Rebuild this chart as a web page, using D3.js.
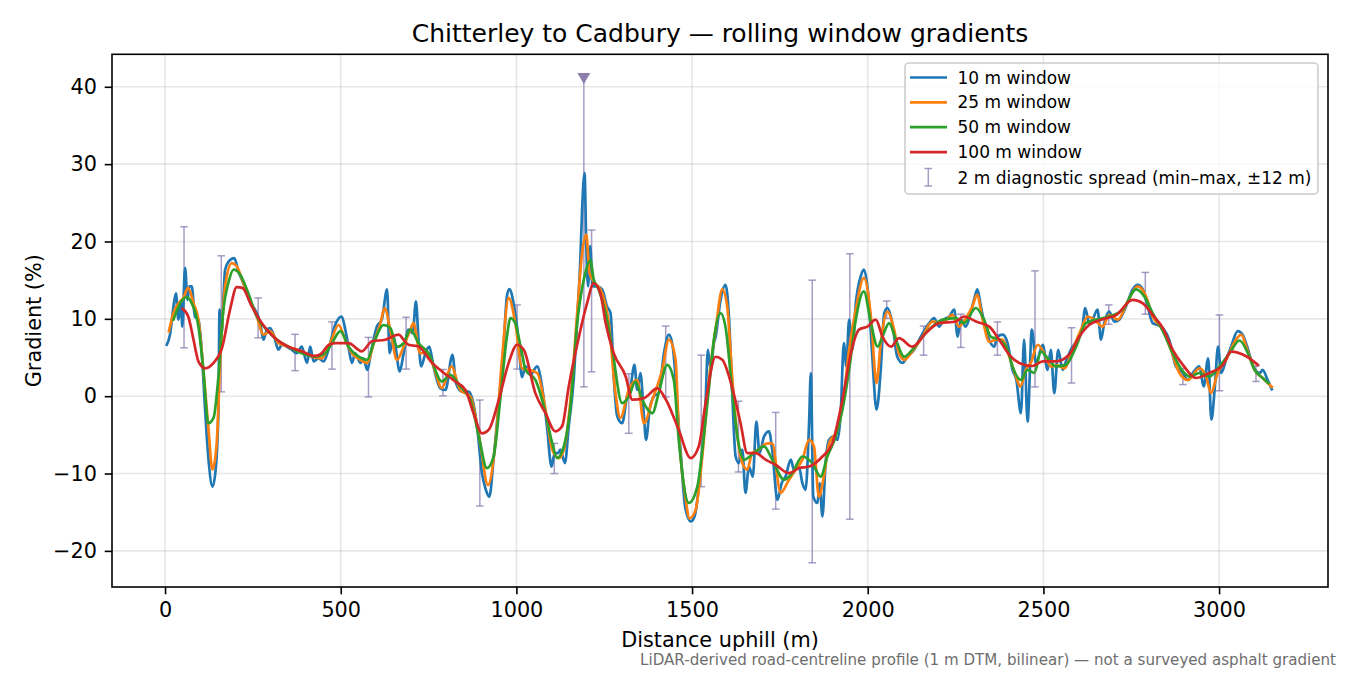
<!DOCTYPE html>
<html>
<head>
<meta charset="utf-8">
<script src="https://cdn.jsdelivr.net/npm/d3@7"></script>
<style>
  html, body { margin: 0; padding: 0; background: #fff; }
  svg { display: block; }
  text { font-family: "DejaVu Sans", sans-serif; }
</style>
</head>
<body>
<svg id="chart" width="1350" height="675"></svg>
<script>
// ---------- data (distance m, gradient %) ----------
const win10 = [[5,6.65],[14,7.95],[24,11.6],[31,13.3],[38,9.9],[46,12.0],[49,9.0],[57,16.6],[64,12.45],[69,14.2],[76,14.2],[85,10.3],[95,9.9],[104,6.0],[114,-1.75],[123,-7.8],[135,-11.7],[144,-9.5],[152,-1.75],[155,11.2],[160,7.7],[171,16.35],[185,17.6],[197,17.85],[209,16.1],[223,14.6],[237,12.7],[247,11.8],[256,11.2],[271,9.45],[280,7.3],[290,8.6],[299,8.8],[309,7.95],[323,6.0],[332,6.65],[347,6.4],[361,6.0],[375,5.55],[389,6.4],[404,4.3],[413,6.4],[423,4.5],[437,4.9],[451,4.5],[465,6.0],[484,9.2],[503,10.3],[513,8.6],[522,6.4],[532,4.3],[541,5.55],[556,4.3],[565,4.9],[575,3.4],[589,6.4],[603,9.0],[617,9.9],[632,13.8],[639,5.55],[650,7.7],[668,3.2],[679,5.55],[693,8.6],[705,8.15],[714,12.25],[722,6.85],[729,3.85],[741,5.55],[752,6.4],[764,3.85],[783,1.05],[798,0.8],[818,5.35],[828,1.7],[845,0.6],[864,0.6],[875,-0.45],[888,-3.9],[902,-9.95],[913,-12.1],[923,-13.0],[935,-8.2],[950,-0.9],[964,6.85],[973,12.9],[980,13.85],[992,12.0],[1005,7.7],[1016,2.45],[1026,3.85],[1040,2.75],[1059,3.85],[1073,1.25],[1087,-3.9],[1100,-9.1],[1109,-7.35],[1119,-7.35],[1125,-6.9],[1138,-8.65],[1149,-3.9],[1163,2.1],[1173,9.9],[1182,17.6],[1187,24.1],[1194,28.85],[1199,19.4],[1204,14.2],[1210,19.4],[1217,14.2],[1230,14.2],[1244,13.8],[1258,11.6],[1268,10.75],[1277,2.55],[1287,-2.6],[1301,-3.5],[1315,-0.05],[1325,1.25],[1336,4.05],[1344,0.8],[1353,3.0],[1363,-2.6],[1369,-5.65],[1379,-1.75],[1391,-0.05],[1405,0.4],[1420,5.55],[1434,7.95],[1445,6.4],[1465,-5.65],[1481,-14.5],[1496,-16.2],[1507,-15.55],[1524,-9.5],[1538,-1.3],[1545,6.0],[1553,3.4],[1562,6.85],[1567,7.7],[1581,12.45],[1595,14.4],[1605,10.3],[1614,0.8],[1624,-7.8],[1633,-8.65],[1643,-6.9],[1652,-12.5],[1662,-9.1],[1673,-10.4],[1683,-3.3],[1692,-7.35],[1705,-5.2],[1719,-4.55],[1728,-6.9],[1743,-13.4],[1755,-11.25],[1766,-10.4],[1781,-8.2],[1790,-9.5],[1804,-9.1],[1814,-11.25],[1823,-12.1],[1833,-3.5],[1838,3.0],[1845,-13.0],[1857,-13.8],[1863,-11.25],[1871,-15.55],[1880,-8.65],[1890,-5.65],[1904,-5.2],[1914,-5.65],[1923,-2.2],[1932,6.85],[1939,3.85],[1947,9.9],[1956,6.0],[1966,12.0],[1980,15.5],[1989,16.35],[2002,12.9],[2013,5.1],[2025,-1.75],[2037,3.4],[2047,10.75],[2056,11.4],[2070,9.45],[2084,5.1],[2099,4.3],[2113,5.1],[2132,6.0],[2151,7.7],[2175,9.45],[2189,10.1],[2203,9.0],[2217,9.9],[2232,10.3],[2246,11.2],[2256,7.7],[2265,9.9],[2279,9.0],[2293,10.75],[2305,12.9],[2312,13.8],[2322,11.6],[2336,8.6],[2350,6.85],[2360,6.4],[2369,7.7],[2384,7.95],[2398,6.85],[2412,3.4],[2423,2.1],[2436,-2.2],[2445,7.3],[2455,-3.3],[2467,8.6],[2479,4.3],[2498,6.65],[2512,3.4],[2521,6.0],[2531,0.4],[2542,6.0],[2555,3.4],[2564,4.5],[2578,6.0],[2597,7.3],[2610,8.6],[2619,11.4],[2630,9.45],[2640,9.9],[2654,11.2],[2664,7.3],[2673,9.45],[2687,10.95],[2702,9.65],[2716,9.9],[2735,11.6],[2754,13.8],[2768,14.4],[2783,13.8],[2797,11.6],[2811,9.45],[2825,9.2],[2840,8.8],[2858,7.3],[2877,3.85],[2897,3.0],[2911,2.1],[2925,3.0],[2944,3.85],[2956,1.25],[2969,4.9],[2978,-3.05],[2988,1.25],[2997,6.4],[3006,3.0],[3020,4.7],[3034,6.4],[3053,8.4],[3067,7.95],[3080,6.4],[3097,3.85],[3116,3.0],[3124,3.4],[3138,2.1],[3150,0.9]];

const win25 = [[11,8.4],[24,10.75],[38,12.0],[52,12.7],[66,14.0],[81,12.0],[95,9.9],[109,3.4],[123,-3.9],[135,-9.5],[147,-6.1],[157,4.7],[171,14.2],[190,17.2],[204,16.8],[223,14.6],[242,12.45],[261,10.3],[280,7.95],[299,8.4],[323,6.85],[351,6.4],[389,5.8],[418,5.1],[446,4.9],[470,6.85],[494,9.2],[513,7.3],[532,5.55],[556,4.7],[575,4.3],[594,6.85],[613,9.45],[625,11.4],[641,8.6],[660,4.7],[679,6.4],[698,8.6],[707,9.45],[726,5.55],[745,5.55],[764,3.85],[788,1.05],[815,3.85],[840,0.8],[869,-0.05],[897,-6.1],[919,-11.5],[940,-6.1],[959,4.7],[978,12.7],[997,9.45],[1016,3.6],[1035,3.4],[1059,3.0],[1083,-1.75],[1102,-6.9],[1121,-8.0],[1135,-6.9],[1154,-0.45],[1173,10.75],[1187,18.5],[1199,20.9],[1208,15.9],[1220,14.85],[1244,13.3],[1263,9.45],[1282,0.4],[1296,-2.8],[1320,0.8],[1344,2.1],[1363,-3.5],[1387,-0.45],[1415,3.4],[1434,7.3],[1453,4.7],[1462,-4.35],[1481,-13.0],[1493,-15.8],[1510,-14.7],[1529,-7.8],[1548,2.1],[1567,8.6],[1586,13.8],[1600,11.6],[1614,2.55],[1629,-5.2],[1643,-8.65],[1657,-9.5],[1671,-7.35],[1690,-6.9],[1714,-6.1],[1728,-6.1],[1752,-12.5],[1776,-10.8],[1795,-9.5],[1814,-8.2],[1833,-5.65],[1847,-6.5],[1861,-13.0],[1875,-10.4],[1890,-6.1],[1914,-4.35],[1932,-0.05],[1947,6.0],[1966,11.2],[1989,15.3],[2009,10.3],[2025,1.7],[2037,6.85],[2056,10.95],[2075,8.6],[2089,5.55],[2104,4.7],[2127,5.8],[2156,7.7],[2184,9.65],[2213,9.45],[2241,10.5],[2260,9.0],[2279,10.1],[2298,11.6],[2311,13.1],[2327,9.9],[2346,7.05],[2365,7.3],[2384,7.3],[2403,5.1],[2422,2.55],[2434,1.25],[2450,3.4],[2464,4.3],[2484,6.65],[2502,5.55],[2521,3.85],[2540,4.0],[2559,3.6],[2583,6.0],[2607,8.6],[2626,10.3],[2645,9.9],[2669,9.0],[2687,10.5],[2712,9.9],[2740,12.25],[2768,14.2],[2792,12.9],[2811,10.3],[2840,8.6],[2863,6.0],[2887,3.0],[2911,2.1],[2944,3.6],[2963,2.55],[2977,0.4],[2996,3.0],[3020,4.7],[3048,7.3],[3063,7.95],[3080,6.0],[3101,3.4],[3124,2.35],[3150,1.2]];

const win50 = [[24,9.9],[43,12.0],[62,12.8],[76,12.0],[95,9.0],[109,3.4],[123,-3.5],[138,-2.8],[152,2.55],[166,11.2],[180,14.6],[195,16.35],[214,15.7],[237,13.3],[261,10.3],[285,8.8],[313,7.5],[351,6.4],[389,5.55],[427,5.1],[456,5.55],[475,6.85],[499,8.4],[522,6.4],[551,5.1],[575,4.7],[594,6.85],[622,9.2],[641,8.8],[660,6.4],[679,6.85],[698,8.6],[722,6.85],[750,5.55],[788,1.9],[812,2.75],[840,1.25],[869,-0.45],[893,-5.2],[916,-9.3],[935,-7.8],[954,-0.45],[973,7.7],[983,10.1],[997,9.45],[1007,7.5],[1016,5.55],[1026,3.4],[1054,2.1],[1083,-2.2],[1102,-6.1],[1116,-8.0],[1135,-6.5],[1154,-1.3],[1173,9.45],[1192,15.1],[1211,17.6],[1220,15.1],[1234,13.8],[1254,10.75],[1273,6.0],[1301,-0.9],[1320,-0.05],[1339,1.9],[1358,-0.45],[1387,-2.2],[1405,0.4],[1429,4.05],[1448,2.1],[1462,-5.6],[1491,-13.8],[1515,-11.7],[1534,-5.0],[1548,1.0],[1562,7.3],[1581,10.75],[1595,9.0],[1614,0.8],[1629,-5.2],[1648,-8.2],[1676,-7.35],[1705,-6.5],[1728,-8.2],[1762,-10.8],[1785,-9.95],[1814,-7.8],[1842,-8.65],[1866,-10.4],[1885,-7.8],[1909,-5.2],[1928,-1.75],[1947,3.4],[1966,9.9],[1989,13.55],[2009,9.45],[2028,6.4],[2042,7.7],[2061,9.45],[2080,7.3],[2104,5.1],[2127,6.0],[2156,7.7],[2184,9.0],[2213,9.9],[2251,10.1],[2274,9.45],[2308,11.4],[2331,9.9],[2350,7.7],[2374,7.3],[2398,6.0],[2412,3.85],[2436,2.1],[2455,3.4],[2474,3.0],[2493,5.75],[2512,4.9],[2536,3.85],[2564,4.05],[2593,6.4],[2621,9.45],[2650,9.9],[2687,10.3],[2726,11.2],[2764,13.8],[2787,12.9],[2811,10.75],[2840,8.4],[2868,5.55],[2897,3.2],[2916,2.55],[2944,3.0],[2972,2.55],[3001,3.85],[3030,5.55],[3058,7.2],[3082,5.55],[3101,3.4],[3124,2.35],[3140,1.7]];

const win100 = [[50,11.3],[66,10.3],[81,7.3],[95,4.5],[114,3.6],[138,4.3],[162,6.2],[185,11.2],[204,14.1],[220,14.0],[247,11.6],[276,9.4],[313,7.5],[351,6.4],[389,5.8],[427,5.2],[446,5.55],[465,6.6],[484,6.85],[522,6.85],[560,5.8],[589,7.1],[627,7.3],[665,7.95],[679,7.3],[693,6.65],[722,6.4],[760,4.3],[788,3.2],[826,1.9],[855,0.8],[878,-2.2],[902,-4.8],[921,-4.35],[950,-0.45],[978,4.3],[1002,6.65],[1021,6.0],[1054,0.4],[1083,-2.2],[1111,-4.55],[1130,-3.9],[1149,1.25],[1178,7.7],[1201,12.0],[1220,14.6],[1239,13.3],[1254,9.45],[1277,5.55],[1311,2.55],[1330,-0.45],[1363,-0.25],[1401,1.0],[1425,-0.4],[1462,-4.35],[1496,-8.0],[1519,-6.5],[1538,-1.0],[1567,5.1],[1586,4.7],[1612,1.5],[1638,-3.5],[1657,-7.35],[1681,-7.35],[1709,-8.2],[1738,-8.9],[1776,-9.95],[1804,-9.3],[1833,-9.1],[1871,-7.8],[1899,-6.1],[1928,-0.45],[1952,5.55],[1975,8.6],[1999,9.0],[2023,9.9],[2042,7.7],[2066,6.4],[2089,7.5],[2127,6.4],[2165,8.15],[2203,9.45],[2251,9.65],[2274,10.3],[2308,9.65],[2346,9.0],[2374,7.3],[2403,5.35],[2431,4.3],[2469,3.9],[2498,4.5],[2536,4.5],[2573,5.35],[2602,7.7],[2630,9.2],[2669,9.95],[2707,10.5],[2754,12.45],[2783,12.0],[2811,10.5],[2840,8.8],[2868,6.0],[2897,4.05],[2934,2.35],[2972,3.0],[3011,4.05],[3034,5.75],[3055,5.6],[3080,5.1],[3110,4.05]];

// 2 m diagnostic spread: [distance, min, max]
const spread = [[54,6.25,21.9],[160,0.56,18.15],[265,7.55,12.7],[370,3.3,8.0],[475,3.5,9.6],[579,-0.1,7.6],[686,3.5,10.2],[791,0.04,3.45],[896,-14.2,-0.5],[1002,3.5,11.8],[1108,-10.0,-6.1],[1192,1.2,41.07],[1214,3.15,21.5],[1320,-4.8,2.9],[1425,-0.1,9.06],[1526,-11.7,5.3],[1632,-9.8,-0.65],[1738,-14.6,-2.1],[1842,-21.54,15.0],[1949,-15.9,18.4],[2054,10.05,12.3],[2159,5.3,9.06],[2265,6.3,10.6],[2369,5.3,9.6],[2476,1.2,16.2],[2580,1.7,8.85],[2686,9.3,11.8],[2790,10.6,16.0],[2897,1.5,3.6],[3001,0.7,10.5],[3105,1.9,3.9]];
const peakMarker = [1192, 41.07];

const xTicks = [0, 500, 1000, 1500, 2000, 2500, 3000];
const yTicks = [-20, -10, 0, 10, 20, 30, 40];

const seriesNames = ["10 m window", "25 m window", "50 m window", "100 m window"];
const seriesColors = ["#1f77b4", "#ff7f0e", "#2ca02c", "#d62728"];
const seriesData = [win10, win25, win50, win100];

// ---------- layout ----------
const svg = d3.select("#chart");
const L = 112, R = 1328, T = 54.3, B = 587;
const x = d3.scaleLinear().domain([-151, 3310]).range([L, R]);
const y = d3.scaleLinear().domain([-24.67, 44.2]).range([B, T]);
const fmt = v => v < 0 ? "\u2212" + Math.abs(v) : String(v);

svg.append("rect").attr("width", 1350).attr("height", 675).attr("fill", "#fff");

const clip = svg.append("defs").append("clipPath").attr("id", "plotclip");
clip.append("rect").attr("x", L).attr("y", T).attr("width", R - L).attr("height", B - T);

// grid
const grid = svg.append("g");
grid.selectAll(".gx").data(xTicks).join("line")
  .attr("x1", d => x(d)).attr("x2", d => x(d)).attr("y1", T).attr("y2", B)
  .attr("stroke", "#b0b0b0").attr("stroke-opacity", 0.3).attr("stroke-width", 1.6);
grid.selectAll(".gy").data(yTicks).join("line")
  .attr("x1", L).attr("x2", R).attr("y1", d => y(d)).attr("y2", d => y(d))
  .attr("stroke", "#b0b0b0").attr("stroke-opacity", 0.3).attr("stroke-width", 1.6);

const plot = svg.append("g").attr("clip-path", "url(#plotclip)");

// error bars
const ebColor = "#8a7bb0";
const ebOp = 0.75;
const eb = plot.append("g").attr("stroke", ebColor).attr("stroke-opacity", ebOp).attr("stroke-width", 1.5);
eb.selectAll(".v").data(spread).join("line")
  .attr("x1", d => x(d[0])).attr("x2", d => x(d[0]))
  .attr("y1", d => y(d[1])).attr("y2", d => y(d[2]));
eb.selectAll(".c1").data(spread).join("line")
  .attr("x1", d => x(d[0]) - 3.8).attr("x2", d => x(d[0]) + 3.8)
  .attr("y1", d => y(d[1])).attr("y2", d => y(d[1]));
eb.selectAll(".c2").data(spread.filter(d => d[0] !== peakMarker[0])).join("line")
  .attr("x1", d => x(d[0]) - 3.8).attr("x2", d => x(d[0]) + 3.8)
  .attr("y1", d => y(d[2])).attr("y2", d => y(d[2]));

// lines
const line = d3.line().x(d => x(d[0])).y(d => y(d[1])).curve(d3.curveMonotoneX);
seriesData.forEach((s, i) => {
  plot.append("path").datum(s).attr("d", line)
    .attr("fill", "none").attr("stroke", seriesColors[i])
    .attr("stroke-width", 2.7).attr("stroke-linejoin", "round").attr("stroke-linecap", "square");
});

// peak marker (downward triangle)
const px = x(peakMarker[0]), py = y(peakMarker[1]);
svg.append("path")
  .attr("d", `M${px - 6.5},${py - 5.5} L${px + 6.5},${py - 5.5} L${px},${py + 5.5} Z`)
  .attr("fill", "#8677a8").attr("fill-opacity", 0.95);

// axes
const xAxis = d3.axisBottom(x).tickValues(xTicks).tickFormat(fmt).tickSize(7.3).tickPadding(8.4);
const yAxis = d3.axisLeft(y).tickValues(yTicks).tickFormat(fmt).tickSize(7.3).tickPadding(7.7);
const gx = svg.append("g").attr("transform", `translate(0,${B})`).call(xAxis);
const gy = svg.append("g").attr("transform", `translate(${L},0)`).call(yAxis);
[gx, gy].forEach(g => {
  g.select(".domain").remove();
  g.selectAll("line").attr("stroke", "#000").attr("stroke-width", 1.6);
  g.selectAll("text").attr("fill", "#000")
    .style("font-family", "'DejaVu Sans', sans-serif").style("font-size", "20.8px");
});

// frame
svg.append("rect").attr("x", L).attr("y", T).attr("width", R - L).attr("height", B - T)
  .attr("fill", "none").attr("stroke", "#000").attr("stroke-width", 1.6);

// titles
svg.append("text").attr("x", 720).attr("y", 42).attr("text-anchor", "middle")
  .style("font-size", "25px").attr("fill", "#000")
  .text("Chitterley to Cadbury \u2014 rolling window gradients");
svg.append("text").attr("x", 720).attr("y", 647).attr("text-anchor", "middle")
  .style("font-size", "20.8px").attr("fill", "#000").text("Distance uphill (m)");
svg.append("text").attr("transform", "translate(41,320.7) rotate(-90)").attr("text-anchor", "middle")
  .style("font-size", "20.8px").attr("fill", "#000").text("Gradient (%)");
svg.append("text").attr("x", 1336).attr("y", 665).attr("text-anchor", "end")
  .style("font-size", "15.1px").attr("fill", "#6e6e6e")
  .text("LiDAR-derived road-centreline profile (1 m DTM, bilinear) \u2014 not a surveyed asphalt gradient");

// legend
const lg = svg.append("g");
lg.append("rect").attr("x", 905).attr("y", 63).attr("width", 413).attr("height", 131).attr("rx", 4)
  .attr("fill", "#fff").attr("fill-opacity", 0.8).attr("stroke", "#cccccc").attr("stroke-width", 1.6);
const rowY = [77.5, 102.3, 127.2, 152.2, 178];
seriesNames.forEach((n, i) => {
  lg.append("line").attr("x1", 910).attr("x2", 947).attr("y1", rowY[i]).attr("y2", rowY[i])
    .attr("stroke", seriesColors[i]).attr("stroke-width", 2.7);
  lg.append("text").attr("x", 957.5).attr("y", rowY[i]).attr("dy", "0.36em")
    .style("font-size", "17px").attr("fill", "#000").text(n);
});
const ex = 928.3, ey1 = 168.5, ey2 = 186;
const le = lg.append("g").attr("stroke", ebColor).attr("stroke-opacity", ebOp).attr("stroke-width", 1.5);
le.append("line").attr("x1", ex).attr("x2", ex).attr("y1", ey1).attr("y2", ey2);
le.append("line").attr("x1", ex - 3.8).attr("x2", ex + 3.8).attr("y1", ey1).attr("y2", ey1);
le.append("line").attr("x1", ex - 3.8).attr("x2", ex + 3.8).attr("y1", ey2).attr("y2", ey2);
lg.append("text").attr("x", 957.5).attr("y", rowY[4]).attr("dy", "0.36em")
  .style("font-size", "17px").attr("fill", "#000")
  .text("2 m diagnostic spread (min\u2013max, \u00b112 m)");
</script>
</body>
</html>
